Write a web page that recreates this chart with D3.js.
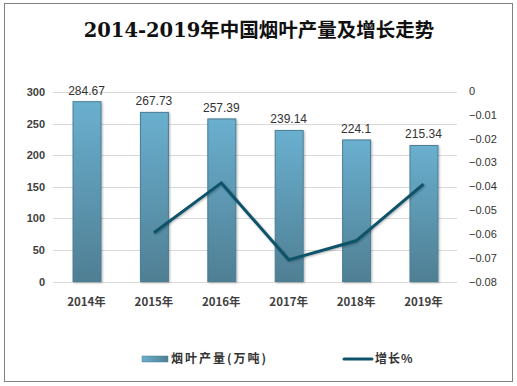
<!DOCTYPE html>
<html>
<head>
<meta charset="utf-8">
<script src="https://cdn.jsdelivr.net/npm/d3@7"></script>
<style>
  body { margin: 0; background: #fff; }
  svg text { font-family: "Noto Sans CJK SC", "DejaVu Sans", sans-serif; }
</style>
</head>
<body>
<div id="chart-vis"></div>
<script>
const years = ['2014年', '2015年', '2016年', '2017年', '2018年', '2019年'];
const output = [284.67, 267.73, 257.39, 239.14, 224.1, 215.34];
const growth = [null, -0.0595, -0.0386, -0.0709, -0.0629, -0.0391];
const leftTicks = [0, 50, 100, 150, 200, 250, 300];
const rightTicks = [0, -0.01, -0.02, -0.03, -0.04, -0.05, -0.06, -0.07, -0.08];

const width = 517;
const height = 386;

const svg = d3.select('#chart-vis').append('svg')
    .attr('width', width)
    .attr('height', height);

// outer frame
svg.append('rect')
    .attr('x', 4.5).attr('y', 3.5)
    .attr('width', 508).attr('height', 378)
    .attr('fill', '#fff')
    .attr('stroke', '#808080')
    .attr('stroke-width', 1);

svg.append('text')
    .attr('x', 259).attr('y', 37)
    .attr('text-anchor', 'middle')
    .style('font-family', '"DejaVu Serif", "Noto Sans CJK SC", serif')
    .style('font-size', '19.5px')
    .style('font-weight', 'bold')
    .attr('fill', '#111')
    .text('2014-2019年中国烟叶产量及增长走势');

const x = d3.scaleBand()
    .domain(years)
    .range([53, 457])
    .paddingInner(0.585)
    .paddingOuter(0.29);

const yLeft = d3.scaleLinear().domain([0, 300]).range([281.5, 92]);
const yRight = d3.scaleLinear().domain([-0.08, 0]).range([281.5, 91]);

const defs = svg.append('defs');
const grad = defs.append('linearGradient')
    .attr('id', 'barGrad')
    .attr('x1', 0).attr('y1', 0).attr('x2', 0).attr('y2', 1);
grad.append('stop').attr('offset', '0%').attr('stop-color', '#6aafcf');
grad.append('stop').attr('offset', '100%').attr('stop-color', '#4f7f93');

const legGrad = defs.append('linearGradient')
    .attr('id', 'legGrad')
    .attr('x1', 0).attr('y1', 0).attr('x2', 1).attr('y2', 0);
legGrad.append('stop').attr('offset', '0%').attr('stop-color', '#6aafcf');
legGrad.append('stop').attr('offset', '100%').attr('stop-color', '#4f7f93');

const shadow = defs.append('filter').attr('id', 'shadow')
    .attr('x', '-20%').attr('y', '-20%').attr('width', '150%').attr('height', '150%');
shadow.append('feDropShadow')
    .attr('dx', 1).attr('dy', 1).attr('stdDeviation', 1)
    .attr('flood-color', '#000').attr('flood-opacity', 0.3);

// gridlines
svg.append('g').selectAll('line')
    .data(leftTicks)
    .enter()
    .append('line')
    .attr('x1', 53).attr('x2', 457)
    .attr('y1', d => Math.round(yLeft(d)) + 0.5)
    .attr('y2', d => Math.round(yLeft(d)) + 0.5)
    .attr('stroke', '#d9d9d9')
    .attr('stroke-width', 1);

// left axis
const axisLeft = svg.append('g')
    .attr('transform', 'translate(45,0)')
    .call(d3.axisLeft(yLeft).tickValues(leftTicks).tickSize(0).tickPadding(0));
axisLeft.select('.domain').remove();
axisLeft.selectAll('text')
    .style('font-family', '"Liberation Sans", Arial, sans-serif')
    .style('font-size', '11px')
    .style('font-weight', 'bold')
    .attr('fill', '#404040');

// right axis
const axisRight = svg.append('g')
    .attr('transform', 'translate(469,0)')
    .call(d3.axisRight(yRight).tickValues(rightTicks).tickSize(0).tickPadding(0)
        .tickFormat(d => (d === 0 ? '0' : d3.format('.2f')(d))));
axisRight.select('.domain').remove();
axisRight.selectAll('text')
    .style('font-family', '"Liberation Sans", Arial, sans-serif')
    .style('font-size', '11px')
    .attr('fill', '#333');

// bars
svg.append('g').selectAll('rect')
    .data(output)
    .enter()
    .append('rect')
    .attr('x', (d, i) => x(years[i]) + 0.5)
    .attr('y', d => yLeft(d))
    .attr('width', x.bandwidth())
    .attr('height', d => yLeft(0) - yLeft(d))
    .attr('fill', 'url(#barGrad)')
    .attr('stroke', '#4a7e94')
    .attr('stroke-width', 1)
    .attr('filter', 'url(#shadow)');

// bar value labels
svg.append('g').selectAll('text')
    .data(output)
    .enter()
    .append('text')
    .attr('x', (d, i) => x(years[i]) + x.bandwidth() / 2)
    .attr('y', d => yLeft(d) - 7)
    .attr('text-anchor', 'middle')
    .style('font-family', '"Liberation Sans", Arial, sans-serif')
    .style('font-size', '12px')
    .attr('fill', '#333')
    .text(d => d);

// category labels
svg.append('g').selectAll('text')
    .data(years)
    .enter()
    .append('text')
    .attr('x', d => x(d) + x.bandwidth() / 2)
    .attr('y', 306)
    .attr('text-anchor', 'middle')
    .style('font-size', '11.5px')
    .style('font-weight', 'bold')
    .attr('fill', '#404040')
    .text(d => d);

// growth line
const line = d3.line()
    .defined(d => d.v !== null)
    .x(d => x(d.year) + x.bandwidth() / 2)
    .y(d => yRight(d.v));

svg.append('path')
    .datum(years.map((year, i) => ({ year, v: growth[i] })))
    .attr('d', line)
    .attr('fill', 'none')
    .attr('stroke', '#0e5269')
    .attr('stroke-width', 3)
    .attr('stroke-linejoin', 'miter')
    .attr('filter', 'url(#shadow)');

// legend
const legend = svg.append('g');
legend.append('rect')
    .attr('x', 142).attr('y', 356)
    .attr('width', 26).attr('height', 6)
    .attr('fill', 'url(#legGrad)')
    .attr('stroke', '#4a7e94')
    .attr('stroke-width', 0.5);
legend.append('text')
    .attr('x', 171).attr('y', 363)
    .style('font-size', '12px')
    .style('font-weight', 'bold')
    .style('letter-spacing', '2px')
    .attr('fill', '#333')
    .text('烟叶产量(万吨)');
legend.append('line')
    .attr('x1', 344).attr('x2', 372)
    .attr('y1', 359).attr('y2', 359)
    .attr('stroke', '#0e5269')
    .attr('stroke-width', 3)
    .attr('stroke-linecap', 'round');
legend.append('text')
    .attr('x', 375).attr('y', 363)
    .style('font-size', '12px')
    .style('font-weight', 'bold')
    .style('letter-spacing', '1px')
    .attr('fill', '#333')
    .text('增长%');
</script>
</body>
</html>
